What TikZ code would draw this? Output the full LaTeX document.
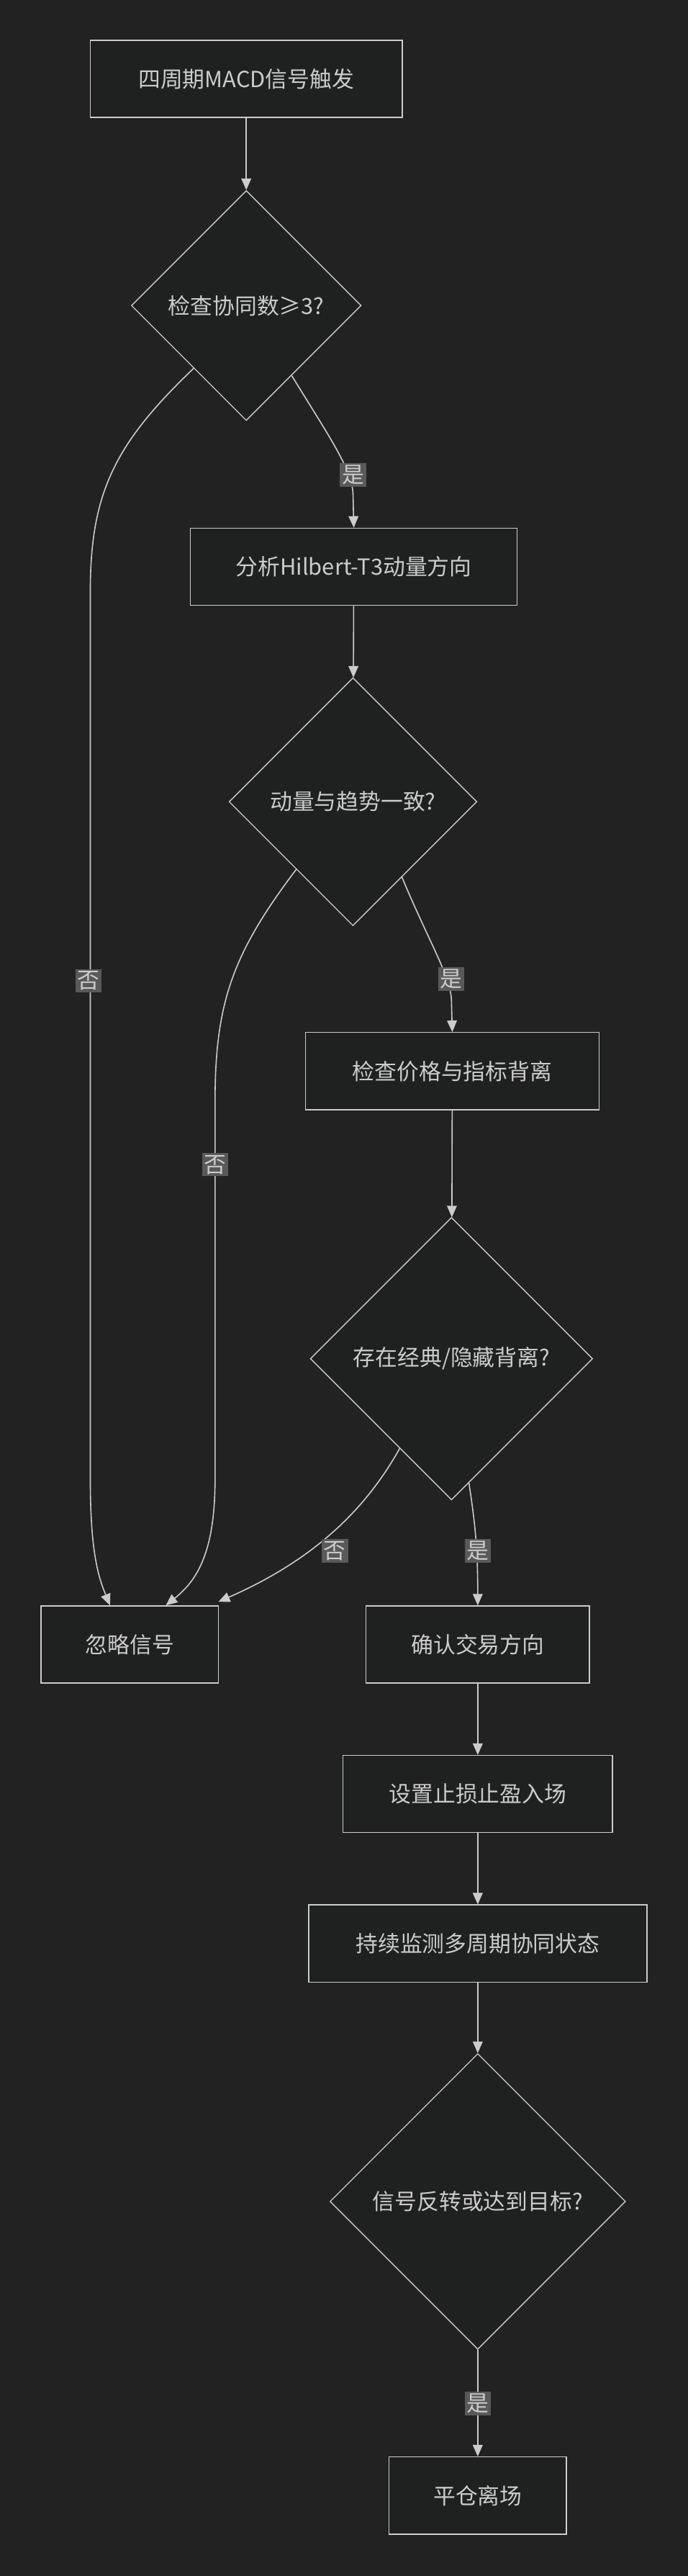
\documentclass[tikz,border=0pt]{standalone}
\usepackage{fontspec}
\setmainfont{Noto Sans CJK SC}
\usetikzlibrary{shapes.geometric,arrows.meta,calc}
\definecolor{bg}{HTML}{222222}
\definecolor{nf}{HTML}{1F2020}
\definecolor{ln}{HTML}{CCCCCC}
\definecolor{lb}{HTML}{595959}
\begin{document}
\begin{tikzpicture}[x=1pt,y=-1pt,
  box/.style={draw=ln,fill=nf,text=ln,line width=0.6pt,minimum height=47pt,inner sep=0pt,font=\fontsize{13.5}{15}\selectfont},
  dia/.style={draw=ln,fill=nf,text=ln,line width=0.6pt,diamond,inner sep=0pt,font=\fontsize{13.5}{15}\selectfont},
  lab/.style={fill=lb,text=ln,inner sep=1.2pt,font=\fontsize{13.5}{15}\selectfont},
  e/.style={draw=ln,line width=0.7pt,-{Triangle[length=7pt,width=6pt]}}]
\fill[bg] (0,0) rectangle (419,1568);
\useasboundingbox (0,0) rectangle (419,1568);
\node[box,minimum width=190pt] (n1) at (150,48) {四周期MACD信号触发};
\node[dia,minimum width=140pt,minimum height=140pt] (d1) at (150,186) {检查协同数≥3?};
\node[box,minimum width=199pt] (n2) at (215.5,345) {分析Hilbert-T3动量方向};
\node[dia,minimum width=151pt,minimum height=151pt] (d2) at (215,488) {动量与趋势一致?};
\node[box,minimum width=179pt] (n3) at (275.5,652) {检查价格与指标背离};
\node[dia,minimum width=172pt,minimum height=172pt] (d3) at (275,827) {存在经典/隐藏背离?};
\node[box,minimum width=108pt] (ign) at (79,1001) {忽略信号};
\node[box,minimum width=136pt] (n4) at (291,1001) {确认交易方向};
\node[box,minimum width=164pt] (n5) at (291,1092) {设置止损止盈入场};
\node[box,minimum width=206pt] (n6) at (291,1183) {持续监测多周期协同状态};
\node[dia,minimum width=180pt,minimum height=180pt] (d4) at (291,1340) {信号反转或达到目标?};
\node[box,minimum width=108pt] (n7) at (291,1519) {平仓离场};
\coordinate (i1) at ($(ign.north)+(-12,0)$);
\coordinate (i2) at ($(ign.north)+(22,0)$);
\coordinate (i3) at (133,975);
\draw[e] (n1) -- (d1);
\draw[e] (d1.-57) .. controls (200,265) and (214,285) .. (215,300) -- (n2.north);
\draw[e] (d1.-130) .. controls (70,270) and (55,300) .. (55,360) -- (55,900) .. controls (55,945) and (60,960) .. (i1);
\draw[e] (n2) -- (d2);
\draw[e] (d2.-57) .. controls (262,575) and (275,595) .. (275,610) -- (n3.north);
\draw[e] (d2.-130) .. controls (142,580) and (131,610) .. (131,670) -- (131,900) .. controls (131,945) and (120,962) .. (i2);
\draw[e] (n3) -- (d3);
\draw[e] (d3.-82) .. controls (289,925) and (291,940) .. (n4.north);
\draw[e] (d3.-120) .. controls (222,920) and (190,950) .. (i3);
\draw[e] (n4) -- (n5);
\draw[e] (n5) -- (n6);
\draw[e] (n6) -- (d4);
\draw[e] (d4) -- (n7);
\node[lab] (l1) at (215,289) {是};
\node[lab] (l2) at (54,597) {否};
\node[lab] (l3) at (275,596) {是};
\node[lab] (l4) at (131,709) {否};
\node[lab] (l5) at (204,944) {否};
\node[lab] (l6) at (291,944) {是};
\node[lab] (l7) at (291,1463) {是};
\end{tikzpicture}
\end{document}
